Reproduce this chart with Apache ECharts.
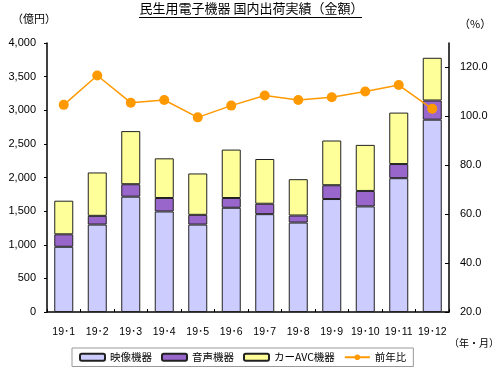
<!DOCTYPE html>
<html>
<head>
<meta charset="utf-8">
<script src="https://cdn.jsdelivr.net/npm/echarts@6/dist/echarts.min.js"></script>
<style>html,body{margin:0;padding:0;background:#fff}#c{width:503px;height:371px}</style>
</head>
<body>
<div id="c"></div>
<script>
var categories = ['19･1','19･2','19･3','19･4','19･5','19･6','19･7','19･8','19･9','19･10','19･11','19･12'];
var videoValues = [970, 1300, 1715, 1495, 1300, 1550, 1455, 1330, 1680, 1570, 1990, 2860];
var audioValues = [185, 130, 185, 200, 145, 145, 155, 105, 205, 230, 210, 285];
var carAvcValues = [500, 645, 790, 590, 615, 720, 665, 540, 665, 685, 765, 635];
var yoyValues = [104.7, 116.7, 105.6, 106.7, 99.6, 104.4, 108.5, 106.7, 107.8, 110.2, 112.8, 103.1];
var seriesNames = ['映像機器', '音声機器', 'カーAVC機器', '前年比'];

var FONT = '"Liberation Sans", "Noto Sans CJK JP", sans-serif';
var JFONT = '"Noto Sans CJK JP", sans-serif';
var chart = echarts.init(document.getElementById('c'), null, {renderer: 'canvas'});

function barSeries(name, data, color) {
  return {
    name: name, type: 'bar', stack: 'total', data: data, barWidth: 19,
    itemStyle: {color: color, borderColor: '#222', borderWidth: 1}
  };
}

chart.setOption({
  animation: false,
  textStyle: {fontFamily: FONT},
  title: {
    text: '民生用電子機器 国内出荷実績（金額）',
    left: 'center', top: -3,
    textStyle: {fontFamily: JFONT, fontSize: 13, fontWeight: 'normal', color: '#000'}
  },
  graphic: [
    {type: 'line', shape: {x1: 139, y1: 17.5, x2: 362, y2: 17.5}, style: {stroke: '#000', lineWidth: 1}},
    {type: 'text', left: 12, top: 13, style: {text: '（億円）', font: '11px ' + JFONT, fill: '#000'}},
    {type: 'text', left: 459, top: 18, style: {text: '（%）', font: '11px ' + JFONT, fill: '#000'}},
    {type: 'text', left: 449, top: 338, style: {text: '（年・月）', font: '10px ' + JFONT, fill: '#000'}}
  ],
  legend: {
    data: seriesNames,
    left: 72, top: 348,
    padding: [4, 7],
    itemGap: 9,
    itemWidth: 25, itemHeight: 7,
    borderColor: '#999', borderWidth: 1,
    textStyle: {fontFamily: JFONT, fontSize: 10.5, color: '#000'}
  },
  grid: {left: 47, right: 54, top: 43, bottom: 59},
  xAxis: {
    type: 'category', data: categories, boundaryGap: true,
    axisLine: {lineStyle: {color: '#000', width: 1.5}},
    axisTick: {show: true, inside: true, length: 3, lineStyle: {color: '#000'}},
    axisLabel: {color: '#000', fontSize: 10.5, margin: 15, interval: 0, fontFamily: FONT}
  },
  yAxis: [
    {
      type: 'value', min: 0, max: 4000, interval: 500,
      axisLine: {show: true, lineStyle: {color: '#000', width: 1.5}},
      axisTick: {show: true, length: 3, lineStyle: {color: '#000'}},
      splitLine: {show: false},
      axisLabel: {color: '#000', fontSize: 11, margin: 11,
        formatter: function (v) { return v.toLocaleString('en-US'); }}
    },
    {
      type: 'value', min: 20, max: 130, interval: 20, position: 'right',
      axisLine: {show: true, lineStyle: {color: '#000', width: 1.5}},
      axisTick: {show: true, inside: true, length: 4, lineStyle: {color: '#000'}},
      splitLine: {show: false},
      axisLabel: {color: '#000', fontSize: 11, margin: 11, showMaxLabel: false,
        formatter: function (v) { return v.toFixed(1); }}
    }
  ],
  series: [
    barSeries(seriesNames[0], videoValues, '#CCCCFF'),
    barSeries(seriesNames[1], audioValues, '#9966CC'),
    barSeries(seriesNames[2], carAvcValues, '#FFFF99'),
    {
      name: seriesNames[3], type: 'line', yAxisIndex: 1, data: yoyValues,
      symbol: 'circle', symbolSize: 10, z: 5, clip: false, showSymbol: true,
      lineStyle: {color: '#FF9900', width: 1.5, type: 'solid'},
      itemStyle: {color: '#FF9900'}
    }
  ]
});
</script>
</body>
</html>
